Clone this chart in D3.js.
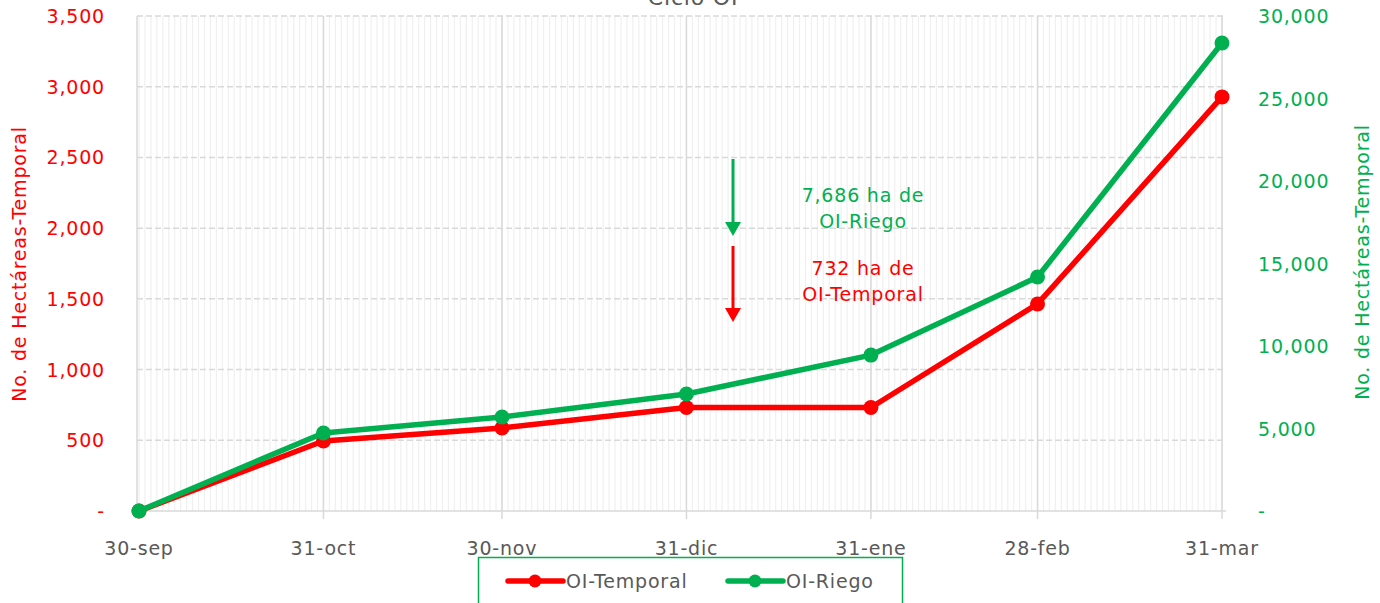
<!DOCTYPE html>
<html>
<head>
<meta charset="utf-8">
<script src="https://cdn.jsdelivr.net/npm/d3@7"></script>
<style>
  body { margin: 0; background: #fff; }
  text { font-family: "DejaVu Sans", sans-serif; letter-spacing: 0.8px; }
</style>
</head>
<body>
<svg></svg>
<script>
// chart data
var dateStrings = ["2022-09-30", "2022-10-31", "2022-11-30", "2022-12-31", "2023-01-31", "2023-02-28", "2023-03-31"];
var dateLabels = ["30-sep", "31-oct", "30-nov", "31-dic", "31-ene", "28-feb", "31-mar"];
var temporal = [0, 495, 587, 732, 732, 1464, 2928];
var riego = [0, 4730, 5700, 7090, 9450, 14180, 28360];
var leftTicks = [0, 500, 1000, 1500, 2000, 2500, 3000, 3500];
var rightTicks = [0, 5000, 10000, 15000, 20000, 25000, 30000];

var width = 1380;
var height = 603;
var red = "#ff0000";
var green = "#00b050";

var parse = d3.utcParse("%Y-%m-%d");
var dates = dateStrings.map(parse);

var svg = d3.select("svg")
      .attr("width", width)
      .attr("height", height)

var x = d3.scaleUtc()
      .domain([dates[0], dates[dates.length - 1]])
      .range([139, 1222])
var yL = d3.scaleLinear().domain([0, 3500]).range([511, 16])
var yR = d3.scaleLinear().domain([0, 30000]).range([511, 16])

// daily minor gridlines
var days = d3.utcDay.range(dates[0], d3.utcDay.offset(dates[dates.length - 1], 1));
svg.append("g")
      .selectAll("line")
      .data(days)
      .enter()
      .append("line")
            .attr("x1", d => x(d))
            .attr("x2", d => x(d))
            .attr("y1", 16)
            .attr("y2", 511)
            .style("stroke", "#f0f0f0")
            .style("stroke-width", 1.2)

// horizontal gridlines (dashed)
svg.append("g")
      .selectAll("line")
      .data(leftTicks.slice(1))
      .enter()
      .append("line")
            .attr("x1", 137)
            .attr("x2", 1226)
            .attr("y1", d => yL(d))
            .attr("y2", d => yL(d))
            .style("stroke", "#d9d9d9")
            .style("stroke-width", 1.5)
            .style("stroke-dasharray", "6,3")

// major vertical gridlines
svg.append("g")
      .selectAll("line")
      .data(dates.slice(1))
      .enter()
      .append("line")
            .attr("x1", d => x(d))
            .attr("x2", d => x(d))
            .attr("y1", 16)
            .attr("y2", 519)
            .style("stroke", "#d9d9d9")
            .style("stroke-width", 1.5)

// axis lines
svg.append("line").attr("x1", 137).attr("x2", 137).attr("y1", 16).attr("y2", 511)
      .style("stroke", "#d9d9d9").style("stroke-width", 1.5)
svg.append("line").attr("x1", 137).attr("x2", 1226).attr("y1", 511).attr("y2", 511)
      .style("stroke", "#d9d9d9").style("stroke-width", 1.5)

// left axis labels
var fmt = d => d === 0 ? "-" : d3.format(",")(d);
svg.append("g")
      .selectAll("text")
      .data(leftTicks)
      .enter()
      .append("text")
            .attr("x", 105)
            .attr("y", d => yL(d) + 7)
            .attr("text-anchor", "end")
            .style("font-size", "19px")
            .style("fill", red)
            .text(fmt)

// right axis labels
svg.append("g")
      .selectAll("text")
      .data(rightTicks)
      .enter()
      .append("text")
            .attr("x", 1258)
            .attr("y", d => yR(d) + 7)
            .attr("text-anchor", "start")
            .style("font-size", "19px")
            .style("fill", green)
            .text(fmt)

// x axis labels
svg.append("g")
      .selectAll("text")
      .data(dates)
      .enter()
      .append("text")
            .attr("x", d => x(d))
            .attr("y", 555)
            .attr("text-anchor", "middle")
            .style("font-size", "19px")
            .style("fill", "#595959")
            .text((d, i) => dateLabels[i])

// axis titles
svg.append("text")
      .attr("transform", "translate(26,264) rotate(-90)")
      .attr("text-anchor", "middle")
      .style("font-size", "19px")
      .style("fill", red)
      .text("No. de Hectáreas-Temporal")
svg.append("text")
      .attr("transform", "translate(1369,262) rotate(-90)")
      .attr("text-anchor", "middle")
      .style("font-size", "19px")
      .style("fill", green)
      .text("No. de Hectáreas-Temporal")

// title, cut off at the top
svg.append("text")
      .attr("x", 693)
      .attr("y", 5)
      .attr("text-anchor", "middle")
      .style("font-size", "22px")
      .style("fill", "#595959")
      .text("Ciclo OI")

// series
var series = [
      {name: "OI-Temporal", values: temporal, scale: yL, color: red},
      {name: "OI-Riego", values: riego, scale: yR, color: green}
];
series.forEach(function(s) {
      var line = d3.line()
            .x((d, i) => x(dates[i]))
            .y(d => s.scale(d));
      svg.append("path")
            .datum(s.values)
            .attr("d", line)
            .style("fill", "none")
            .style("stroke", s.color)
            .style("stroke-width", 5.5)
            .style("stroke-linejoin", "round")
      svg.append("g")
            .selectAll("circle")
            .data(s.values)
            .enter()
            .append("circle")
                  .attr("cx", (d, i) => x(dates[i]))
                  .attr("cy", d => s.scale(d))
                  .attr("r", 7.5)
                  .style("fill", s.color)
});

// annotations
var arrow = function(x0, y0, y1, color) {
      svg.append("line")
            .attr("x1", x0).attr("x2", x0)
            .attr("y1", y0).attr("y2", y1 - 12)
            .style("stroke", color)
            .style("stroke-width", 3)
      svg.append("path")
            .attr("d", "M" + (x0 - 8) + "," + (y1 - 14) + " L" + (x0 + 8) + "," + (y1 - 14) + " L" + x0 + "," + y1 + " Z")
            .style("fill", color)
}
arrow(733, 159, 236, green)
arrow(733, 246, 322, red)

var note = function(lines, y0, color) {
      svg.append("g")
            .selectAll("text")
            .data(lines)
            .enter()
            .append("text")
                  .attr("x", 863)
                  .attr("y", (d, i) => y0 + i * 26)
                  .attr("text-anchor", "middle")
                  .style("font-size", "19px")
                  .style("fill", color)
                  .text(d => d)
}
note(["7,686 ha de", "OI-Riego"], 202, green)
note(["732 ha de", "OI-Temporal"], 275, red)

// legend
var legend = svg.append("g")
legend.append("rect")
      .attr("x", 478.5).attr("y", 557.5)
      .attr("width", 424).attr("height", 60)
      .style("fill", "#fff")
      .style("stroke", green)
      .style("stroke-width", 1.5)
var legendX = [508, 728];
series.forEach(function(s, i) {
      var lx = legendX[i];
      legend.append("line")
            .attr("x1", lx).attr("x2", lx + 55)
            .attr("y1", 581).attr("y2", 581)
            .style("stroke", s.color)
            .style("stroke-width", 5.5)
            .style("stroke-linecap", "round")
      legend.append("circle")
            .attr("cx", lx + 27).attr("cy", 581).attr("r", 6.5)
            .style("fill", s.color)
      legend.append("text")
            .attr("x", lx + 58).attr("y", 588)
            .style("font-size", "19px")
            .style("fill", "#595959")
            .text(s.name)
});
</script>
</body>
</html>
